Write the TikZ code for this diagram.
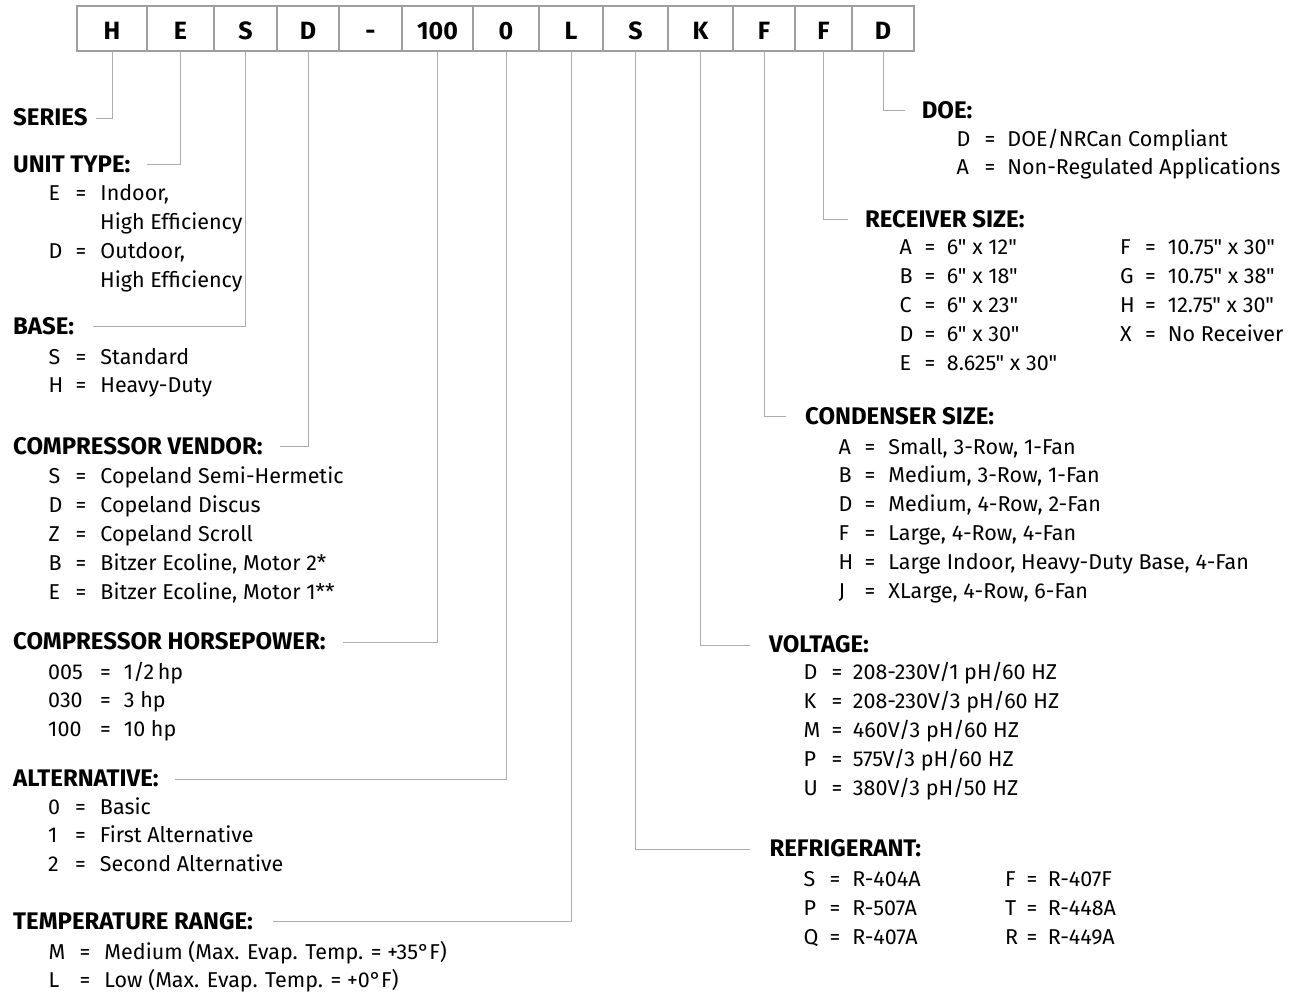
\documentclass[tikz,border=0pt]{standalone}
\usepackage{fontspec}
\setmainfont{Fira Sans}[Ligatures=TeXOff]
\usetikzlibrary{calc}

\newlength\keyw
\newlength\eqgap
\newcommand\kv[2]{\makebox[\keyw][l]{#1}=\hspace{\eqgap}#2}

\begin{document}
\begin{tikzpicture}[x=1pt,y=-1pt,
    cell/.style={draw=gray!75, line width=2pt, fill=white, minimum height=45pt, inner sep=0pt, text height=22pt, text depth=0pt, font=\fontsize{25}{25}\selectfont\bfseries},
    head/.style={anchor=west, inner sep=0pt, text height=20pt, text depth=5pt, font=\fontsize{24}{24}\selectfont\bfseries},
    row/.style={anchor=west, inner sep=0pt, text height=20pt, text depth=5pt, font=\fontsize{21.5}{24}\selectfont},
    lead/.style={draw=gray!65, line width=1pt},
    keys/.style 2 args={execute at begin node={\setlength\keyw{#1}\setlength\eqgap{#2}}}]

    \useasboundingbox (0,0) rectangle (1307,992);

    % model number boxes
    \foreach \l/\r/\t/\n in {77/147/H/cH, 147/214/E/cE, 214/277/S/cS, 277/339/D/cD, 339/402/-/cDash, 402/473/100/cHp, 473/539/0/cAlt, 539/603/L/cL, 603/668/S/cR, 668/733/K/cK, 733/795/F/cC, 795/852/F/cRs, 852/914/D/cDoe}
    \node (\n) [cell, minimum width=\r-\l] at ({(\l+\r)/2},28.5) {\t};

    % left column
    \node (series) [head] at (13,118.3) {SERIES};
    \node (unit) [head] at (13,165) {UNIT TYPE:};
    \node (unit-1) [row, keys={27pt}{14pt}] at (48.5,193.5) {\kv{E}{Indoor,}};
    \node (unit-2) [row] at (100,222) {High Efficiency};
    \node (unit-3) [row, keys={27pt}{14pt}] at (48.5,251) {\kv{D}{Outdoor,}};
    \node (unit-4) [row] at (100,280) {High Efficiency};

    \node (base) [head] at (13,327) {BASE:};
    \foreach \k/\v [count=\i] in {S/Standard, H/Heavy-Duty}
    \node (base-\i) [row, keys={27pt}{14pt}] at (48.5,{356.5+28.9*(\i-1)}) {\kv{\k}{\v}};

    \node (vendor) [head] at (13,446.7) {COMPRESSOR VENDOR:};
    \foreach \k/\v [count=\i] in {S/Copeland Semi-Hermetic, D/Copeland Discus, Z/Copeland Scroll, B/{Bitzer Ecoline, Motor 2*}, E/{Bitzer Ecoline, Motor 1**}}
    \node (vendor-\i) [row, keys={27pt}{14pt}] at (48.5,{476+28.9*(\i-1)}) {\kv{\k}{\v}};

    \node (hp) [head] at (13,642.3) {COMPRESSOR HORSEPOWER:};
    \foreach \k/\v [count=\i] in {005/{1/2\,hp}, 030/3 hp, 100/10 hp}
    \node (hp-\i) [row, keys={52pt}{13pt}] at (48,{671.5+28.9*(\i-1)}) {\kv{\k}{\v}};

    \node (alt) [head] at (13,779.3) {ALTERNATIVE:};
    \foreach \k/\v [count=\i] in {0/Basic, 1/First Alternative, 2/Second Alternative}
    \node (alt-\i) [row, keys={27pt}{14pt}] at (48,{806.5+28.9*(\i-1)}) {\kv{\k}{\v}};

    \node (temp) [head] at (13,921.7) {TEMPERATURE RANGE:};
    \foreach \k/\v [count=\i] in {M/Medium (Max. Evap. Temp. = +35°F), L/Low (Max. Evap. Temp. = +0°F)}
    \node (temp-\i) [row, keys={31pt}{14pt}] at (48.5,{951.5+28*(\i-1)}) {\kv{\k}{\v}};

    % right column
    \node (doe) [head] at (921.6,110.7) {DOE:};
    \foreach \k/\v [count=\i] in {D/{DOE/NRCan Compliant}, A/Non-Regulated Applications}
    \node (doe-\i) [row, keys={28pt}{12pt}] at (956.5,{139.5+28*(\i-1)}) {\kv{\k}{\v}};

    \node (recv) [head] at (864.8,220) {RECEIVER SIZE:};
    \foreach \k/\v [count=\i] in {A/6" x 12", B/6" x 18", C/6" x 23", D/6" x 30", E/8.625" x 30"}
    \node (recv-\i) [row, keys={25pt}{11.5pt}] at (899.5,{247.5+28.9*(\i-1)}) {\kv{\k}{\v}};
    \foreach \k/\v [count=\i] in {F/10.75" x 30", G/10.75" x 38", H/12.75" x 30", X/No Receiver}
    \node (recvb-\i) [row, keys={25pt}{12pt}] at (1120,{247.5+28.9*(\i-1)}) {\kv{\k}{\v}};

    \node (cond) [head] at (805,416.7) {CONDENSER SIZE:};
    \foreach \k/\v [count=\i] in {A/{Small, 3-Row, 1-Fan}, B/{Medium, 3-Row, 1-Fan}, D/{Medium, 4-Row, 2-Fan}, F/{Large, 4-Row, 4-Fan}, H/{Large Indoor, Heavy-Duty Base, 4-Fan}, J/{XLarge, 4-Row, 6-Fan}}
    \node (cond-\i) [row, keys={26pt}{13pt}] at (838.5,{446.5+28.9*(\i-1)}) {\kv{\k}{\v}};

    \node (volt) [head] at (769,645) {VOLTAGE:};
    \foreach \k/\v [count=\i] in {D/{208-230V/1 pH/60 HZ}, K/{208-230V/3 pH/60 HZ}, M/{460V/3 pH/60 HZ}, P/{575V/3 pH/60 HZ}, U/{380V/3 pH/50 HZ}}
    \node (volt-\i) [row, keys={28pt}{10.5pt}] at (803.5,{672+28.9*(\i-1)}) {\kv{\k}{\v}};

    \node (refr) [head] at (769.3,849.3) {REFRIGERANT:};
    \foreach \k/\v [count=\i] in {S/R-404A, P/R-507A, Q/R-407A}
    \node (refr-\i) [row, keys={26pt}{12pt}] at (803.5,{879+28.9*(\i-1)}) {\kv{\k}{\v}};
    \foreach \k/\v [count=\i] in {F/R-407F, T/R-448A, R/R-449A}
    \node (refrb-\i) [row, keys={21.5pt}{10.5pt}] at (1005,{879+28.9*(\i-1)}) {\kv{\k}{\v}};

    % leader lines
    \draw[lead, shorten >=8pt] (cH.south) |- (series.east);
    \draw[lead, shorten >=16pt] (cE.south) |- (unit.east);
    \draw[lead, shorten >=19pt] (cS.south) |- (base.east);
    \draw[lead, shorten >=17pt] (cD.south) |- (vendor.east);
    \draw[lead, shorten >=17pt] (cHp.south) |- (hp.east);
    \draw[lead, shorten >=16pt] (cAlt.south) |- (alt.east);
    \draw[lead, shorten >=20pt] (cL.south) |- (temp.east);
    \draw[lead, shorten >=17pt] (cDoe.south) |- (doe.west);
    \draw[lead, shorten >=17pt] (cRs.south) |- (recv.west);
    \draw[lead, shorten >=19pt] (cC.south) |- (cond.west);
    \draw[lead, shorten >=19pt] (cK.south) |- (volt.west);
    \draw[lead, shorten >=19pt] (cR.south) |- (refr.west);

\end{tikzpicture}
\end{document}
